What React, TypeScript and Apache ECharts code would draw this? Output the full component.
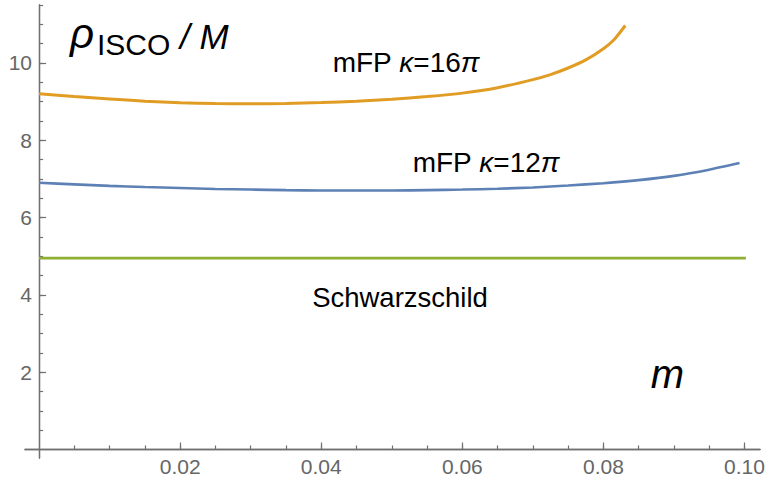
import React, { useEffect, useRef } from "react";
import * as echarts from "echarts";

// m values and rho_ISCO/M values
const mKappa16 = [0, 0.005, 0.01, 0.015, 0.02, 0.025, 0.03, 0.035, 0.04, 0.045, 0.05, 0.055, 0.06, 0.065, 0.07, 0.0725, 0.075, 0.0775, 0.08, 0.0815, 0.0831];
const rhoKappa16 = [9.205, 9.13, 9.07, 9.01, 8.97, 8.95, 8.945, 8.95, 8.975, 9.01, 9.06, 9.13, 9.22, 9.36, 9.57, 9.70, 9.87, 10.08, 10.37, 10.60, 10.97];
const mKappa12 = [0, 0.005, 0.01, 0.015, 0.02, 0.025, 0.03, 0.035, 0.04, 0.045, 0.05, 0.055, 0.06, 0.065, 0.07, 0.075, 0.08, 0.085, 0.09, 0.095, 0.0993];
const rhoKappa12 = [6.90, 6.86, 6.82, 6.79, 6.765, 6.74, 6.725, 6.71, 6.70, 6.70, 6.70, 6.71, 6.725, 6.745, 6.78, 6.83, 6.89, 6.97, 7.08, 7.24, 7.41];
const mSchw = [0, 0.1002];
const rhoSchw = [4.95, 4.95];

const xMajorTicks = [0.02, 0.04, 0.06, 0.08, 0.10];
const xMinorTicks = [0.005, 0.01, 0.015, 0.02, 0.025, 0.03, 0.035, 0.04, 0.045, 0.05, 0.055, 0.06, 0.065, 0.07, 0.075, 0.08, 0.085, 0.09, 0.095, 0.1];
const yMajorTicks = [2, 4, 6, 8, 10];
const yMinorTicks = [0.5, 1, 1.5, 2, 2.5, 3, 3.5, 4, 4.5, 5, 5.5, 6, 6.5, 7, 7.5, 8, 8.5, 9, 9.5, 10, 10.5, 11, 11.5];

const X_MIN = -0.002;
const X_MAX = 0.1022;
const Y_MIN = -0.22;
const Y_MAX = 11.5;

const FONT = '"Liberation Sans", Arial, sans-serif';
const AXIS_COLOR = "#707070";
const LABEL_COLOR = "#666666";

function pairs(xs: number[], ys: number[]) {
  return xs.map((x, i) => [x, ys[i]]);
}

export default function App() {
  const ref = useRef<HTMLDivElement>(null);
  useEffect(() => {
    if (!ref.current) return;
    const chart = echarts.init(ref.current, undefined, { renderer: "svg" });
    const baseX = { type: "value", min: X_MIN, max: X_MAX, splitLine: { show: false } };
    const baseY = { type: "value", min: Y_MIN, max: Y_MAX, splitLine: { show: false } };
    chart.setOption({
      animation: false,
      backgroundColor: "#ffffff",
      grid: { left: 25, right: 5, top: 5, bottom: 26, containLabel: false, outerBoundsMode: "none" },
      xAxis: [
        {
          ...baseX,
          position: "bottom",
          axisLine: { show: true, onZero: true, onZeroAxisIndex: 0, lineStyle: { color: AXIS_COLOR, width: 1.3 } },
          axisTick: { show: true, inside: true, length: 7, customValues: xMajorTicks, lineStyle: { color: AXIS_COLOR, width: 1.2 } },
          axisLabel: {
            show: true,
            customValues: xMajorTicks,
            formatter: (v: number) => v.toFixed(2),
            color: LABEL_COLOR,
            fontSize: 21,
            fontFamily: FONT,
            margin: -2,
          },
        },
        {
          ...baseX,
          position: "bottom",
          axisLine: { show: true, onZero: true, onZeroAxisIndex: 0, lineStyle: { color: AXIS_COLOR, width: 1.3 } },
          axisTick: { show: true, inside: true, length: 4, customValues: xMinorTicks, lineStyle: { color: AXIS_COLOR, width: 1.2 } },
          axisLabel: { show: false },
        },
      ],
      yAxis: [
        {
          ...baseY,
          position: "left",
          axisLine: { show: true, onZero: true, onZeroAxisIndex: 0, lineStyle: { color: AXIS_COLOR, width: 1.3 } },
          axisTick: { show: true, inside: true, length: 7, customValues: yMajorTicks, lineStyle: { color: AXIS_COLOR, width: 1.2 } },
          axisLabel: {
            show: true,
            customValues: yMajorTicks,
            formatter: (v: number) => String(v),
            color: LABEL_COLOR,
            fontSize: 21,
            fontFamily: FONT,
            margin: -7,
          },
        },
        {
          ...baseY,
          position: "left",
          axisLine: { show: true, onZero: true, onZeroAxisIndex: 0, lineStyle: { color: AXIS_COLOR, width: 1.3 } },
          axisTick: { show: true, inside: true, length: 4, customValues: yMinorTicks, lineStyle: { color: AXIS_COLOR, width: 1.2 } },
          axisLabel: { show: false },
        },
      ],
      series: [
        {
          name: "mFP κ=16π",
          type: "line",
          xAxisIndex: 0,
          yAxisIndex: 0,
          data: pairs(mKappa16, rhoKappa16),
          showSymbol: false,
          smooth: 0.2,
          lineStyle: { color: "#E19C24", width: 3 },
        },
        {
          name: "mFP κ=12π",
          type: "line",
          xAxisIndex: 0,
          yAxisIndex: 0,
          data: pairs(mKappa12, rhoKappa12),
          showSymbol: false,
          smooth: 0.2,
          lineStyle: { color: "#5E81B5", width: 2.6 },
        },
        {
          name: "Schwarzschild",
          type: "line",
          xAxisIndex: 0,
          yAxisIndex: 0,
          data: pairs(mSchw, rhoSchw),
          showSymbol: false,
          lineStyle: { color: "#8FB032", width: 2.6 },
        },
      ],
      graphic: [
        { type: "text", x: 70, y: 33.4, silent: true, style: { text: "ρ", font: `italic 42px ${FONT}`, fill: "#000", verticalAlign: "middle" } },
        { type: "text", x: 97, y: 44, silent: true, style: { text: "ISCO", font: `30px ${FONT}`, fill: "#000", verticalAlign: "middle" } },
        { type: "text", x: 180, y: 36.9, silent: true, style: { text: "/ M", font: `italic 35px ${FONT}`, fill: "#000", verticalAlign: "middle" } },
        {
          type: "text", x: 406, y: 62, silent: true,
          style: {
            text: "{a|mFP }{k|κ}{a|=16}{k|π}",
            align: "center", verticalAlign: "middle",
            rich: { a: { font: `28px ${FONT}`, fill: "#000" }, k: { font: `italic 28px ${FONT}`, fill: "#000" } },
          },
        },
        {
          type: "text", x: 486, y: 162, silent: true,
          style: {
            text: "{a|mFP }{k|κ}{a|=12}{k|π}",
            align: "center", verticalAlign: "middle",
            rich: { a: { font: `28px ${FONT}`, fill: "#000" }, k: { font: `italic 28px ${FONT}`, fill: "#000" } },
          },
        },
        { type: "text", x: 400, y: 297.9, silent: true, style: { text: "Schwarzschild", font: `27.5px ${FONT}`, fill: "#000", align: "center", verticalAlign: "middle" } },
        { type: "text", x: 667.5, y: 374.4, silent: true, style: { text: "m", font: `italic 40px ${FONT}`, fill: "#000", align: "center", verticalAlign: "middle" } },
      ],
    });
    return () => chart.dispose();
  }, []);
  return <div ref={ref} style={{ position: "fixed", left: 0, top: 0, width: 765, height: 484, background: "#fff" }} />;
}
